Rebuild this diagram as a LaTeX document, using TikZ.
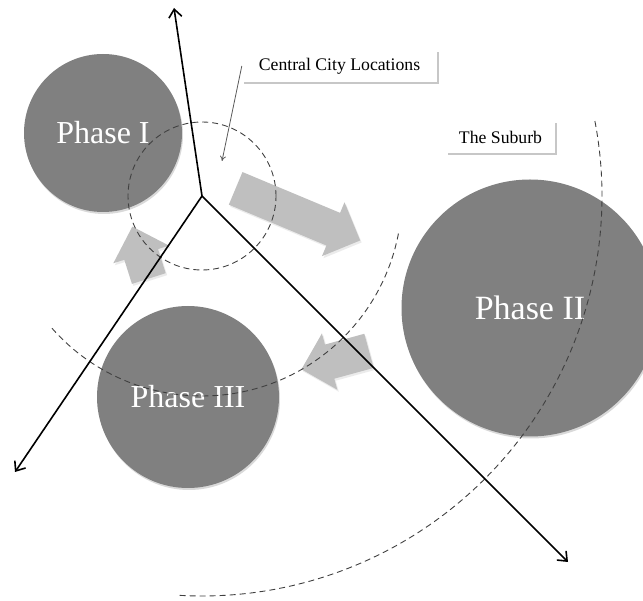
\documentclass[tikz,border=0pt]{standalone}
\usepackage{fontspec}
\setmainfont{Liberation Serif}
\usetikzlibrary{arrows.meta,shapes.arrows,shadows}

\begin{document}
\begin{tikzpicture}[x=1pt,y=1pt,>={Straight Barb[length=8pt,width=13pt]},
  phase/.style={circle,fill=black!50,text=white,inner sep=0pt,minimum size=#1,
    font=\fontsize{32}{36}\selectfont,
    drop shadow={shadow xshift=1pt,shadow yshift=-2pt,fill=black,opacity=.15}},
  labelbox/.style={fill=white,inner sep=0pt,minimum height=32pt,
    font=\fontsize{17.7}{20}\selectfont,
    drop shadow={shadow xshift=2pt,shadow yshift=-2.5pt,fill=black,opacity=.22}},
  flowarrow/.style={single arrow,fill=black!25,inner xsep=0pt,inner ysep=17.5pt,
    single arrow head extend=11.5pt,minimum height=#1,
    drop shadow={shadow xshift=1.5pt,shadow yshift=-2pt,fill=black,opacity=.08}},
  axisline/.style={line width=1.6pt,->},
  ring/.style={black!75,line width=.9pt,dash pattern=on 6pt off 4pt},
  pointer/.style={black!65,line width=.8pt,-{To[length=5pt,width=6pt]}}]
\useasboundingbox (0,0) rectangle (643,-601);

\coordinate (hub) at (202,-196);
\coordinate (up)  at (174,-8);
\coordinate (sw)  at (15,-472);
\coordinate (se)  at (568,-562);
\coordinate (cbdpt) at (222,-161);

% moves between the phases
\node[flowarrow=135pt,rotate=-22.7] (out)  at (289.75,-211) {};
\node[flowarrow=54.5pt,rotate=107.6] (back) at (143.25,-261) {};
\node[flowarrow=70pt,rotate=195.3]  (inward) at (343.75,-357.75) {};

\node[phase=158pt] (p1) at (103,-133) {Phase I};
\node[phase=257pt,font=\fontsize{34}{38}\selectfont] (p2) at (530,-308) {Phase II};
\node[phase=182pt] (p3) at (188,-397) {Phase III};

\node[labelbox,minimum width=195pt] (cbd) at (339.5,-66) {Central City Locations};
\node[labelbox,minimum width=109pt] (suburb) at (500.5,-137) {The Suburb};

% rings round the centre
\draw[ring] (hub) circle[radius=74];
\draw[ring] (hub) ++(221.4:200) arc[start angle=221.4,end angle=349.3,radius=200];
\draw[ring] (hub) ++(10.8:400) arc[start angle=10.8,end angle=-93.7,radius=400];

\draw[pointer] (cbd.west) -- (cbdpt);

\draw[axisline] (hub) -- (up);
\draw[axisline] (hub) -- (sw);
\draw[axisline] (hub) -- (se);
\end{tikzpicture}
\end{document}
